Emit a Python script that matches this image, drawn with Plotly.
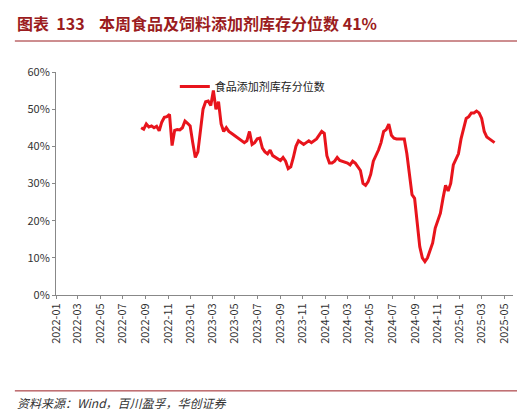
import plotly.graph_objects as go

dates = [
    "2022-08-20", "2022-08-27", "2022-09-03", "2022-09-10", "2022-09-17", "2022-09-24",
    "2022-10-01", "2022-10-08", "2022-10-15", "2022-10-22", "2022-10-29", "2022-11-05",
    "2022-11-12", "2022-11-19", "2022-11-26", "2022-12-03", "2022-12-10", "2022-12-17",
    "2022-12-24", "2022-12-31", "2023-01-07", "2023-01-14", "2023-01-21", "2023-01-28",
    "2023-02-04", "2023-02-11", "2023-02-18", "2023-02-25", "2023-03-04", "2023-03-11",
    "2023-03-18", "2023-03-25", "2023-04-01", "2023-04-08", "2023-04-15", "2023-04-22",
    "2023-04-29", "2023-05-06", "2023-05-13", "2023-05-20", "2023-05-27", "2023-06-03",
    "2023-06-10", "2023-06-17", "2023-06-24", "2023-07-01", "2023-07-08", "2023-07-15",
    "2023-07-22", "2023-07-29", "2023-08-05", "2023-08-12", "2023-08-19", "2023-08-26",
    "2023-09-02", "2023-09-09", "2023-09-16", "2023-09-23", "2023-09-30", "2023-10-07",
    "2023-10-14", "2023-10-21", "2023-10-28", "2023-11-04", "2023-11-11", "2023-11-18",
    "2023-11-25", "2023-12-02", "2023-12-09", "2023-12-16", "2023-12-23", "2023-12-30",
    "2024-01-06", "2024-01-13", "2024-01-20", "2024-01-27", "2024-02-03", "2024-02-10",
    "2024-02-17", "2024-02-24", "2024-03-02", "2024-03-09", "2024-03-16", "2024-03-23",
    "2024-03-30", "2024-04-06", "2024-04-13", "2024-04-20", "2024-04-27", "2024-05-04",
    "2024-05-11", "2024-05-18", "2024-05-25", "2024-06-01", "2024-06-08", "2024-06-15",
    "2024-06-22", "2024-06-29", "2024-07-06", "2024-07-13", "2024-07-20", "2024-07-27",
    "2024-08-03", "2024-08-10", "2024-08-17", "2024-08-24", "2024-08-31", "2024-09-07",
    "2024-09-14", "2024-09-21", "2024-09-28", "2024-10-05", "2024-10-12", "2024-10-19",
    "2024-10-26", "2024-11-02", "2024-11-09", "2024-11-16", "2024-11-23", "2024-11-30",
    "2024-12-07", "2024-12-14", "2024-12-21", "2024-12-28", "2025-01-04", "2025-01-11",
    "2025-01-18", "2025-01-25", "2025-02-01", "2025-02-08", "2025-02-15", "2025-02-22",
    "2025-03-01", "2025-03-08", "2025-03-15", "2025-03-22", "2025-03-29", "2025-04-05",
    "2025-04-12", "2025-04-19", "2025-04-26", "2025-05-03", "2025-05-10", "2025-05-17",
]
values = [
    45.0, 44.6, 46.0, 45.2, 45.5, 45.0,
    45.4, 44.2, 46.5, 47.8, 48.0, 48.6,
    40.2, 44.3, 44.5, 44.4, 45.0, 46.8,
    46.2, 45.5, 41.0, 37.0, 38.5, 45.0,
    50.0, 52.0, 52.2, 51.0, 55.0, 50.0,
    52.0, 46.0, 44.0, 45.0, 44.0, 43.5,
    43.0, 42.5, 42.2, 41.5, 41.0, 41.5,
    44.0, 40.5, 41.0, 42.0, 42.2, 39.5,
    38.5, 38.0, 39.0, 37.5, 37.0, 36.5,
    36.2, 37.0, 36.0, 34.0, 34.5, 37.0,
    40.0, 41.5, 41.0, 40.5, 41.0, 41.5,
    41.0, 41.5, 42.0, 43.0, 44.0, 43.5,
    37.5, 35.5, 35.5, 36.0, 37.0, 36.2,
    36.0, 35.8, 35.5, 35.0, 36.0, 35.5,
    34.5, 33.5, 30.0, 29.5, 30.5, 32.5,
    36.0, 37.5, 39.0, 41.0, 44.0, 44.5,
    46.0, 43.0, 42.2, 42.0, 42.0, 41.8,
    42.0, 38.0, 32.0, 27.0, 26.0, 20.0,
    13.0, 10.0, 9.0, 10.0, 12.0, 14.0,
    18.0, 20.0, 22.0, 26.0, 29.5, 28.0,
    30.0, 35.0, 36.5, 38.0, 42.0, 45.0,
    47.5, 48.0, 49.0, 49.0, 49.5, 49.0,
    47.5, 44.0, 42.5, 42.0, 41.5, 41.0,
]
tick_labels = ["2022-01", "2022-03", "2022-05", "2022-07", "2022-09", "2022-11",
               "2023-01", "2023-03", "2023-05", "2023-07", "2023-09", "2023-11",
               "2024-01", "2024-03", "2024-05", "2024-07", "2024-09", "2024-11",
               "2025-01", "2025-03", "2025-05"]

font = "Noto Sans CJK SC"
dark_red = "#9b1c20"

fig = go.Figure()
fig.add_trace(go.Scatter(x=dates, y=values, mode="lines", name="食品添加剂库存分位数",
                         line=dict(color="#e8141c", width=3)))

fig.update_layout(
    width=525, height=412,
    margin=dict(l=48, r=20, t=64, b=125, autoexpand=False),
    paper_bgcolor="white", plot_bgcolor="white",
    font=dict(family=font, size=11, color="#333"),
    showlegend=True,
    legend=dict(x=0.26, y=1.0, xanchor="left", yanchor="top", bgcolor="rgba(0,0,0,0)",
                font=dict(size=11, color="#222")),
    xaxis=dict(type="date", range=["2022-01-01", "2025-05-25"], automargin=False,
               tickvals=[t + "-01" for t in tick_labels], ticktext=tick_labels,
               tickangle=-90, showgrid=False, showline=True, linecolor="#888",
               ticks="outside", ticklen=3, tickcolor="#888", tickfont=dict(size=11)),
    yaxis=dict(range=[0, 60], dtick=10, ticksuffix="%", showgrid=False, automargin=False,
               showline=True, linecolor="#888", ticks="outside", ticklen=3,
               tickcolor="#888", tickfont=dict(size=11)),
)

# title, rules and source note
fig.add_annotation(text="<b>图表  133    本周食品及饲料添加剂库存分位数 41%</b>",
                   xref="paper", yref="paper", x=-0.09, y=1.22,
                   xanchor="left", yanchor="middle", showarrow=False,
                   font=dict(family=font, size=16, color=dark_red))
fig.add_shape(type="line", xref="paper", yref="paper", x0=-0.09, x1=1.04,
              y0=1.139, y1=1.139, line=dict(color=dark_red, width=1))
fig.add_shape(type="line", xref="paper", yref="paper", x0=-0.09, x1=1.04,
              y0=-0.43, y1=-0.43, line=dict(color=dark_red, width=1))
fig.add_annotation(text="<i>资料来源：Wind，百川盈孚，华创证券</i>",
                   xref="paper", yref="paper", x=-0.09, y=-0.484,
                   xanchor="left", yanchor="middle", showarrow=False,
                   font=dict(family=font, size=12, color="#333"))

fig.write_html("out.html")
